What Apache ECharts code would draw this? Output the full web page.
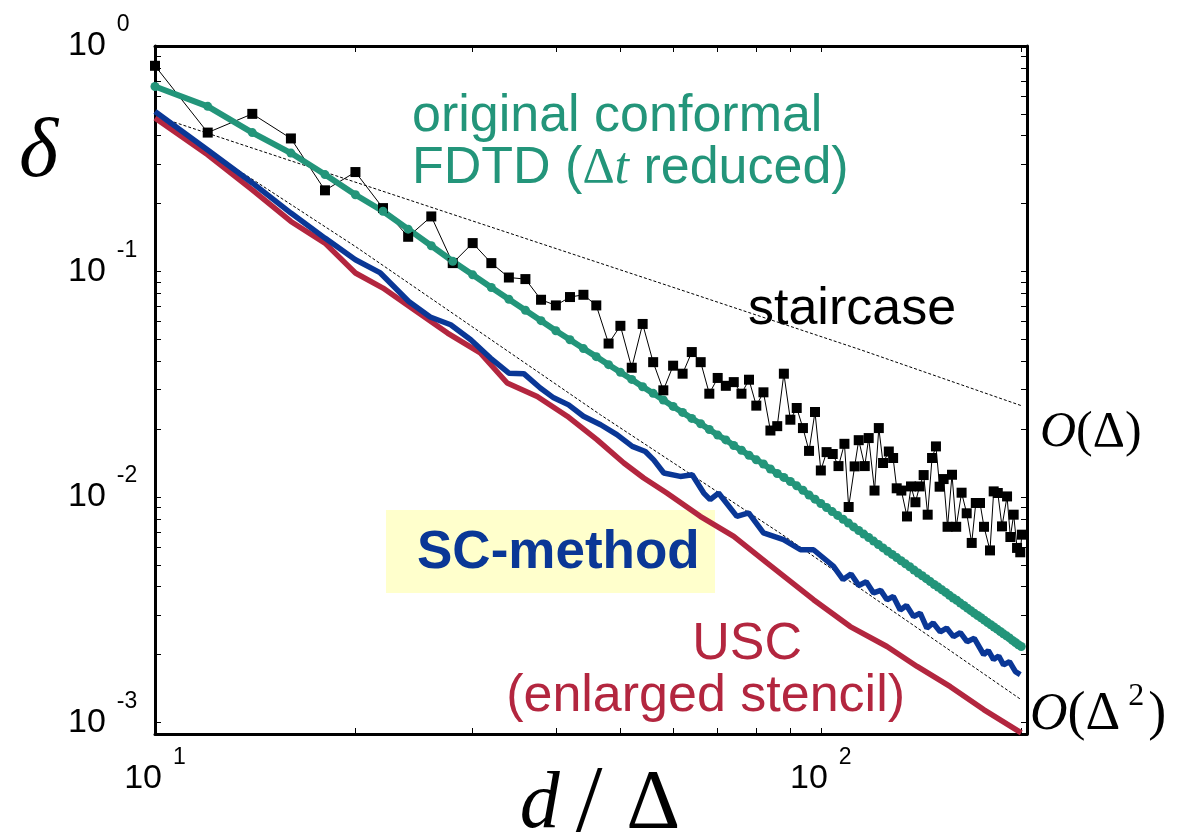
<!DOCTYPE html>
<html>
<head>
<meta charset="UTF-8">
<title>delta vs d/Delta</title>
<script src="https://cdn.jsdelivr.net/npm/echarts@6.0.0/dist/echarts.min.js"></script>
<style>
  body { margin: 0; background: #fff; }
  #main { width: 1193px; height: 840px; }
</style>
</head>
<body>
<div id="main"></div>
<script>
// tick labels (powers of ten) and minor tick positions
var xTickLabels = [10, 100];
var yTickLabels = [0.001, 0.01, 0.1, 1];
var xTicks = [10, 20, 30, 40, 50, 60, 70, 80, 90, 100, 200];

// staircase (black squares)
var stairX = [10, 12, 14, 16, 18, 20, 22, 24, 26, 28, 30, 32, 34, 36, 38, 40, 42, 44, 46, 48,
  50, 52, 54, 56, 58, 60, 62, 64, 66, 68, 70, 72, 74, 76, 78, 80, 82, 84, 86, 88,
  90, 92, 94, 96, 98, 100, 102,
  104.2, 106.3, 108.5, 110.1, 112.4, 114, 116.4, 118, 120.4, 122.2,
  124, 126.5, 128.4, 130, 132.1, 134.7, 136.6, 138.7, 140.7, 142.7,
  144.7, 146.9, 148.9, 150.8, 152.9, 155, 157.4, 159.7, 162.7, 165.6,
  168.5, 170.9, 173.4, 175.8, 179.5, 181.8, 184.4, 187.1, 190.4, 192.6,
  194.8, 197.1, 199.3, 200.4];
var stairY = [0.817, 0.413, 0.500, 0.389, 0.229, 0.276, 0.191, 0.1425, 0.1754, 0.1089,
  0.1336, 0.1089, 0.0940, 0.0925, 0.0749, 0.0707, 0.0770, 0.0788, 0.0707, 0.0479,
  0.0574, 0.0374, 0.0585, 0.0396, 0.0297, 0.0382, 0.0352, 0.0439, 0.0396, 0.0287,
  0.0337, 0.0311, 0.0323, 0.0287, 0.0331, 0.0254, 0.0291, 0.0197, 0.0206, 0.0352,
  0.0220, 0.0248, 0.0202, 0.0160, 0.0238, 0.0131, 0.0158,
  0.0155, 0.0137, 0.0172, 0.00902, 0.01366, 0.01785, 0.0137, 0.01824, 0.01067, 0.0202,
  0.01414, 0.0159, 0.01488, 0.01092, 0.01067, 0.00819, 0.01113, 0.00947, 0.01113, 0.0125,
  0.00834, 0.01488, 0.01675, 0.0111, 0.012, 0.00737, 0.01254, 0.00737, 0.01044, 0.00846,
  0.00625, 0.0094, 0.0094, 0.00737, 0.00579, 0.01058, 0.01041, 0.0074, 0.01005, 0.00664,
  0.00834, 0.00594, 0.00568, 0.0068];

// original conformal FDTD (green, dotted every point)
var confX = [10, 12, 14, 16, 18, 20, 22, 24, 26, 28, 30, 32, 34, 36, 38, 40, 42, 44, 46, 48,
  50, 52, 54, 56, 58, 60, 62, 64, 66, 68, 70, 72, 74, 76, 78, 80, 82, 84, 86, 88,
  90, 92, 94, 96, 98, 100, 102, 104, 106, 108, 110, 112, 114, 116, 118, 120, 122, 124, 126, 128,
  130, 132, 134, 136, 138, 140, 142, 144, 146, 148, 150, 152, 154, 156, 158, 160, 162, 164, 166, 168,
  170, 172, 174, 176, 178, 180, 182, 184, 186, 188, 190, 192, 194, 196, 198, 200];
var confY = [0.661, 0.540, 0.413, 0.335, 0.269, 0.219, 0.185, 0.154, 0.130, 0.111,
  0.0966, 0.0849, 0.0753, 0.0673, 0.0605, 0.0546, 0.0498, 0.0455, 0.0419, 0.0386,
  0.0357, 0.0332, 0.0308, 0.0288, 0.0269, 0.0252, 0.0237, 0.0223, 0.0211, 0.0199,
  0.0188, 0.0179, 0.0169, 0.0161, 0.0153, 0.0146, 0.0140, 0.0133, 0.0127, 0.0122,
  0.0117, 0.0112, 0.0107, 0.0102, 0.00977, 0.00935, 0.00897, 0.00861, 0.00828, 0.00796,
  0.00766, 0.00736, 0.00710, 0.00684, 0.00661, 0.00637, 0.00615, 0.00594, 0.00574, 0.00556,
  0.00538, 0.00521, 0.00505, 0.00490, 0.00474, 0.00460, 0.00447, 0.00434, 0.00421, 0.00409,
  0.00398, 0.00387, 0.00377, 0.00366, 0.00356, 0.00348, 0.00338, 0.00330, 0.00321, 0.00313,
  0.00305, 0.00298, 0.00291, 0.00284, 0.00277, 0.00271, 0.00265, 0.00259, 0.00253, 0.00247,
  0.00242, 0.00237, 0.00231, 0.00226, 0.00221, 0.00217];

// SC-method (blue)
var scX = [10, 12, 14, 16, 18, 20, 21.8, 24.05, 25.9, 27.8, 29.8, 31.9, 34.0, 35.8, 37.9, 39.7,
  41.8, 44.0, 46.7, 49.4, 52.1, 54.5, 56.1, 58.1, 61.5, 64.1, 66.7, 68.2, 70.2, 74.8, 77.9,
  82.0, 87.9, 93.2, 97.5, 104.5, 108, 111, 114, 117, 120, 123, 125.7, 128.5, 131.6, 134.5,
  137.8, 141, 144.3, 147.5, 151.1, 154.5, 158.2, 162, 165.8, 170, 175.6, 178.5, 181.7, 185,
  188.1, 192, 196, 199.3];
var scY = [0.512, 0.346, 0.247, 0.1815, 0.1406, 0.1127, 0.0985, 0.0736, 0.0628, 0.058, 0.0498,
  0.0413, 0.0354, 0.0352, 0.0304, 0.0275, 0.0256, 0.0228, 0.0209, 0.0189, 0.01675, 0.0159,
  0.0146, 0.01276, 0.01233, 0.01254, 0.0104, 0.00972, 0.0104, 0.0082, 0.00849, 0.00692,
  0.00646, 0.00583, 0.00583, 0.00492, 0.00430, 0.00455, 0.00405, 0.00420, 0.00375, 0.00385,
  0.00350, 0.00362, 0.00315, 0.00330, 0.00295, 0.00305, 0.00262, 0.00276, 0.00252, 0.00262,
  0.00240, 0.00250, 0.00228, 0.00236, 0.00200, 0.00208, 0.00190, 0.00197, 0.00180, 0.00186,
  0.00168, 0.00163];

// USC, enlarged stencil (red)
var uscX = [10, 12, 14, 16, 18, 20, 22, 24.5, 27.5, 30.8, 33.8, 37.5, 41.6, 46.1, 50.6, 54.2,
  58.7, 65.9, 74, 83, 97.5, 110.7, 125.7, 139.5, 156.5, 175.6, 200];
var uscY = [0.479, 0.329, 0.230, 0.1666, 0.1336, 0.0984, 0.0844, 0.0676, 0.0533, 0.0435, 0.032,
  0.0279, 0.0228, 0.01794, 0.01414, 0.01213, 0.0104, 0.0082, 0.00668, 0.0051, 0.0035, 0.00266,
  0.00217, 0.00177, 0.00144, 0.00114, 0.000898];

// reference slopes O(Δ) and O(Δ²) (dashed)
var order1X = [10, 61.5, 114.6, 200];
var order1Y = [0.49, 0.083, 0.045, 0.0254];
var order2X = [10, 20, 46.7, 86.9, 200];
var order2Y = [0.49, 0.129, 0.0231, 0.0069, 0.00126];

function pairs(xs, ys) {
  var out = [];
  for (var i = 0; i < xs.length; i++) out.push([xs[i], ys[i]]);
  return out;
}

var yTicks = [];
[0.001, 0.01, 0.1].forEach(function (d) {
  for (var k = 1; k <= 9; k++) yTicks.push(+(d * k).toPrecision(3));
});
yTicks.push(1);

var sans = '"Liberation Sans", Arial, Helvetica, sans-serif';
var serif = '"Liberation Serif", "Times New Roman", serif';
var green = '#23957a', blue = '#0a3796', red = '#b3263f';

function powLabel(v) {
  var e = Math.round(Math.log10(v));
  return '{b|10}{s|' + e + '}';
}
var labelRich = {
  b: { fontSize: 34, fontFamily: sans, color: '#000' },
  s: { fontSize: 23, fontFamily: sans, color: '#000', padding: [0, 0, 42, 11] }
};

function axisCommon(ticks) {
  return {
    type: 'log', logBase: 10,
    splitLine: { show: false },
    axisLine: { onZero: false, lineStyle: { color: '#000', width: 3 } },
    axisTick: { inside: true, length: 6, customValues: ticks, lineStyle: { color: '#000', width: 1 } }
  };
}

var xBottom = Object.assign(axisCommon(xTicks), {
  position: 'bottom', min: 10, max: 204,
  axisLabel: { customValues: xTickLabels, formatter: powLabel, margin: 12, rich: labelRich }
});
var xTop = Object.assign(axisCommon(xTicks), {
  position: 'top', min: 10, max: 204, axisLabel: { show: false }
});
var yLeft = Object.assign(axisCommon(yTicks), {
  position: 'left', min: 0.000888, max: 1,
  axisLabel: { customValues: yTickLabels, formatter: powLabel, margin: 87, align: 'left', rich: labelRich }
});
var yRight = Object.assign(axisCommon(yTicks), {
  position: 'right', min: 0.000888, max: 1, axisLabel: { show: false }
});

var myChart = echarts.init(document.getElementById('main'));
var option = {
  animation: false,
  backgroundColor: '#fff',
  grid: { left: 155, top: 46, right: 166, bottom: 106 },
  xAxis: [xBottom, xTop],
  yAxis: [yLeft, yRight],
  series: [
    {
      name: 'O(Δ)', type: 'line', data: pairs(order1X, order1Y), showSymbol: false, clip: false,
      lineStyle: { color: '#000', width: 1, type: [3, 2] }
    },
    {
      name: 'O(Δ²)', type: 'line', data: pairs(order2X, order2Y), showSymbol: false, clip: false,
      lineStyle: { color: '#000', width: 1, type: [3, 2] }
    },
    {
      name: 'USC', type: 'line', data: pairs(uscX, uscY), showSymbol: false, clip: false,
      lineStyle: { color: red, width: 5.5 }
    },
    {
      name: 'SC-method', type: 'line', data: pairs(scX, scY), showSymbol: false, clip: false,
      lineStyle: { color: blue, width: 5.5 }
    },
    {
      name: 'staircase', type: 'line', data: pairs(stairX, stairY), clip: false,
      symbol: 'rect', symbolSize: 10,
      itemStyle: { color: '#000' },
      lineStyle: { color: '#000', width: 1 }
    },
    {
      name: 'original conformal', type: 'line', data: pairs(confX, confY), clip: false,
      symbol: 'circle', symbolSize: 9,
      itemStyle: { color: green },
      lineStyle: { color: green, width: 6 }
    }
  ],
  graphic: [
    { type: 'rect', z: 0, shape: { x: 386, y: 510, width: 329, height: 83 }, style: { fill: '#ffffcc' } },
    { type: 'text', z: 1, x: 417, y: 553,
      style: { text: 'SC-method', font: 'bold 53px ' + sans, fill: blue, textVerticalAlign: 'middle' } },
    { type: 'text', z: 1, x: 412, y: 117,
      style: { text: 'original conformal', font: '52px ' + sans, fill: green, textVerticalAlign: 'middle' } },
    { type: 'text', z: 1, x: 412, y: 169,
      style: {
        text: '{a|FDTD (}{d|Δ}{t|t}{a| reduced)}', textVerticalAlign: 'middle',
        rich: {
          a: { fontSize: 52, fontFamily: sans, fill: green },
          d: { fontSize: 50, fontFamily: serif, fill: green },
          t: { fontSize: 52, fontFamily: serif, fontStyle: 'italic', fill: green }
        }
      } },
    { type: 'text', z: 1, x: 748, y: 310,
      style: { text: 'staircase', font: '52px ' + sans, fill: '#000', textVerticalAlign: 'middle' } },
    { type: 'text', z: 1, x: 802, y: 645,
      style: { text: 'USC', font: '52px ' + sans, fill: red, textAlign: 'right', textVerticalAlign: 'middle' } },
    { type: 'text', z: 1, x: 905, y: 697,
      style: { text: '(enlarged stencil)', font: '52px ' + sans, fill: red, textAlign: 'right', textVerticalAlign: 'middle' } },
    { type: 'text', z: 1, x: 19, y: 154,
      style: { text: 'δ', font: 'italic 84px ' + serif, fill: '#000', textVerticalAlign: 'middle' } },
    { type: 'text', z: 1, x: 600, y: 806,
      style: {
        text: '{i|d}{sl|/}{n|Δ}', textAlign: 'center', textVerticalAlign: 'middle',
        rich: {
          i: { fontSize: 80, fontFamily: serif, fontStyle: 'italic', fill: '#000' },
          sl: { fontSize: 96, fontFamily: serif, fill: '#000', padding: [0, 24, 0, 16] },
          n: { fontSize: 84, fontFamily: serif, fill: '#000' }
        }
      } },
    { type: 'text', z: 1, x: 1040, y: 433,
      style: {
        text: '{i|O}{n|(Δ)}', textVerticalAlign: 'middle',
        rich: {
          i: { fontSize: 50, fontFamily: serif, fontStyle: 'italic', fill: '#000' },
          n: { fontSize: 50, fontFamily: serif, fill: '#000' }
        }
      } },
    { type: 'text', z: 1, x: 1030, y: 715,
      style: {
        text: '{i|O}{n|(Δ}{s|2}{n|)}', textVerticalAlign: 'middle',
        rich: {
          i: { fontSize: 52, fontFamily: serif, fontStyle: 'italic', fill: '#000' },
          n: { fontSize: 54, fontFamily: serif, fill: '#000' },
          s: { fontSize: 32, fontFamily: serif, fill: '#000', padding: [0, 4, 36, 8] }
        }
      } }
  ]
};
myChart.setOption(option);
</script>
</body>
</html>
